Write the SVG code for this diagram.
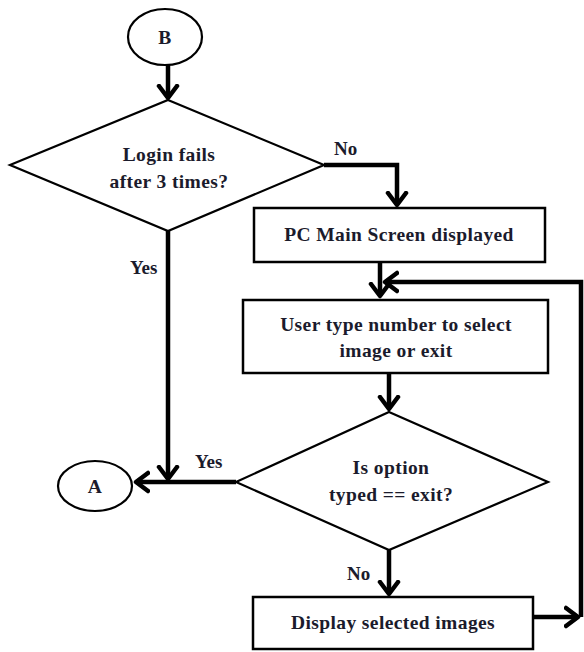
<svg xmlns="http://www.w3.org/2000/svg" width="584" height="652" viewBox="0 0 584 652">
<defs>
<marker id="ah" markerUnits="userSpaceOnUse" markerWidth="28" markerHeight="28" viewBox="-14 -14 28 28" refX="0" refY="0" orient="auto">
<polyline points="-12,-9 0,0 -12,9" fill="none" stroke="#000" stroke-width="4.5" stroke-linecap="round" stroke-linejoin="round"/>
</marker>
</defs>
<style>
.shape{fill:#fff;stroke:#000;stroke-width:2.2}
.box{fill:#fff;stroke:#000;stroke-width:2.5}
.t{font-family:"Liberation Serif","Times New Roman",serif;font-weight:bold;font-size:19.5px;letter-spacing:0.4px;fill:#1b1b2c;text-anchor:middle}
.lbl{font-family:"Liberation Serif","Times New Roman",serif;font-weight:bold;font-size:19px;fill:#1b1b2c}
.c{fill:none;stroke:#000;stroke-width:4.5;stroke-linejoin:miter}
.ca{fill:none;stroke:#000;stroke-width:4.5;marker-end:url(#ah)}
</style>
<rect width="584" height="652" fill="#fff"/>
<g id="connectors">
<line class="ca" x1="168" y1="65" x2="168" y2="98"/>
<polyline class="ca" points="324,165 397,165 397,205"/>
<line class="ca" x1="380" y1="262" x2="380" y2="296"/>
<polyline class="ca" points="581,617 581,282 385,282"/>
<line class="ca" x1="168" y1="231" x2="168" y2="479"/>
<line class="ca" x1="389" y1="373" x2="389" y2="409"/>
<line class="ca" x1="236" y1="482" x2="136" y2="482"/>
<line class="ca" x1="389" y1="550" x2="389" y2="594"/>
<line class="ca" x1="533" y1="617" x2="578" y2="617"/>
<text class="lbl" x="334" y="155">No</text>
<text class="lbl" x="130" y="274">Yes</text>
<text class="lbl" x="195" y="468">Yes</text>
<text class="lbl" x="347" y="580">No</text>
</g>
<g id="B">
<ellipse class="shape" cx="165" cy="37" rx="37" ry="28"/>
<text class="t" x="165" y="44">B</text>
</g>
<g id="login">
<polygon class="shape" points="168,100 324,165 168,231 10,165"/>
<text class="t" x="169" y="161">Login fails</text>
<text class="t" x="169" y="188">after 3 times?</text>
</g>
<g id="main">
<rect class="box" x="254" y="208" width="291" height="54"/>
<text class="t" x="399" y="241">PC Main Screen displayed</text>
</g>
<g id="select">
<rect class="box" x="243" y="300" width="305" height="73"/>
<text class="t" x="396" y="331">User type number to select</text>
<text class="t" x="396" y="357">image or exit</text>
</g>
<g id="exit">
<polygon class="shape" points="389,412 548,482 389,550 236,482"/>
<text class="t" x="391" y="474">Is option</text>
<text class="t" x="391" y="501">typed == exit?</text>
</g>
<g id="A">
<ellipse class="shape" cx="95" cy="486" rx="37" ry="25"/>
<text class="t" x="95" y="493">A</text>
</g>
<g id="display">
<rect class="box" x="253" y="597" width="280" height="52"/>
<text class="t" x="393" y="629">Display selected images</text>
</g>
</svg>
